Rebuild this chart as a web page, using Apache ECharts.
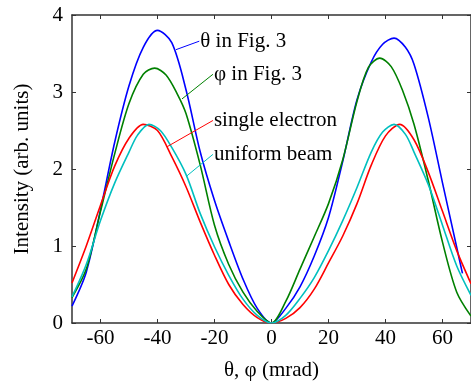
<!DOCTYPE html>
<html>
<head>
<meta charset="utf-8">
<script src="https://cdn.jsdelivr.net/npm/echarts@6/dist/echarts.min.js"></script>
<style>
html,body{margin:0;padding:0;background:#fff;}
#c{width:471px;height:387px;}
</style>
</head>
<body>
<div id="c"></div>
<script>
// ---- data (mrad, arb. units) ----
var thetaX = [-70,-65,-60,-55,-50,-45,-40,-35,-30,-25,-20,-15,-10,-5,0,5,10,15,20,25,30,35,39,43,47,50,55,60,65,67];
var thetaY = [0.22,0.66,1.47,2.35,3.08,3.58,3.80,3.64,3.03,2.22,1.59,1.06,0.57,0.19,0,0.19,0.47,0.87,1.37,2.10,2.90,3.39,3.62,3.70,3.58,3.36,2.67,1.82,0.98,0.645];

var phiX = [-70,-65,-60,-55,-50,-45,-41,-37,-33,-30,-25,-20,-15,-10,-5,0,5,10,15,20,25,30,34,38,42,46,50,55,60,65,70];
var phiY = [0.33,0.70,1.45,2.20,2.85,3.23,3.31,3.22,2.97,2.72,2.05,1.27,0.76,0.40,0.15,0,0.28,0.70,1.12,1.55,2.12,2.88,3.32,3.44,3.33,3.02,2.58,1.85,1.05,0.40,0.09];

var singleX = [-70,-65,-60,-55,-50,-45,-40,-35,-30,-25,-20,-15,-10,-5,0,5,10,15,20,25,30,35,40,45,50,55,60,65,70];
var singleY = [0.52,1.00,1.53,2.04,2.40,2.58,2.50,2.16,1.77,1.31,0.88,0.50,0.24,0.07,0,0.06,0.20,0.44,0.78,1.13,1.55,2.05,2.43,2.58,2.38,1.96,1.45,0.94,0.51];

var uniformX = [-70,-65,-60,-55,-50,-47,-43,-39,-35,-30,-25,-20,-15,-10,-5,0,5,10,15,20,25,30,35,39,43,47,50,55,60,65,70];
var uniformY = [0.34,0.76,1.33,1.82,2.22,2.44,2.58,2.50,2.28,1.93,1.42,0.99,0.62,0.31,0.10,0,0.10,0.32,0.59,0.94,1.33,1.76,2.22,2.48,2.58,2.45,2.22,1.80,1.27,0.74,0.36];

var seriesNames = ['θ in Fig. 3', 'φ in Fig. 3', 'single electron', 'uniform beam'];
var seriesColors = ['#0000ff', '#008000', '#ff0000', '#00bfbf'];

var xTicks = [-60,-40,-20,0,20,40,60];

// annotation: text anchor (data coords) and leader end point on curve (data coords)
var labelAnchorX = [-25.0, -20.2, -20.2, -20.2];
var labelAnchorY = [3.66, 3.23, 2.63, 2.19];
var leaderEndX = [-33.5, -31.4, -36.6, -29.7];
var leaderEndY = [3.55, 2.91, 2.29, 1.91];

function pairs(xs, ys){ return xs.map(function(x,i){ return [x, ys[i]]; }); }

var FONT = 'Liberation Serif';
var FS = 21;
var axisCol = '#333';

var chart = echarts.init(document.getElementById('c'), null, {renderer:'canvas'});

var baseX = {
  type:'value', min:-70, max:70,
  axisLine:{show:true, onZero:false, lineStyle:{color:axisCol, width:1.5}},
  axisTick:{show:true, inside:true, length:4, customValues:xTicks, lineStyle:{color:axisCol, width:1}},
  splitLine:{show:false}
};
var baseY = {
  type:'value', min:0, max:4, interval:1,
  axisLine:{show:true, onZero:false, lineStyle:{color:axisCol, width:1.5}},
  axisTick:{show:true, inside:true, length:4, lineStyle:{color:axisCol, width:1}},
  splitLine:{show:false}
};

var dataSets = [pairs(thetaX,thetaY), pairs(phiX,phiY), pairs(singleX,singleY), pairs(uniformX,uniformY)];

chart.setOption({
  animation:false,
  grid:{left:72, top:15, width:401, height:308},
  xAxis:[
    Object.assign({}, baseX, {
      position:'bottom',
      axisLabel:{show:true, customValues:xTicks, fontFamily:FONT, fontSize:FS, color:'#000', margin:5},
      name:'θ, φ (mrad)', nameLocation:'middle', nameGap:37,
      nameTextStyle:{fontFamily:FONT, fontSize:FS, color:'#000'}
    }),
    Object.assign({}, baseX, {position:'top', axisLabel:{show:false}})
  ],
  yAxis:[
    Object.assign({}, baseY, {
      position:'left',
      axisLabel:{show:true, fontFamily:FONT, fontSize:FS, color:'#000', margin:9},
      name:'Intensity (arb. units)', nameLocation:'middle', nameGap:39,
      nameTextStyle:{fontFamily:FONT, fontSize:FS, color:'#000'}
    }),
    Object.assign({}, baseY, {position:'right', axisLabel:{show:false}})
  ],
  series: dataSets.map(function(d, i){
    return {
      type:'line', name:seriesNames[i], data:d, xAxisIndex:0, yAxisIndex:0,
      smooth:0.3, showSymbol:false, symbol:'none',
      lineStyle:{color:seriesColors[i], width:1.6}, z:2
    };
  })
});

var g = [];
for (var i = 0; i < seriesNames.length; i++) {
  var a = chart.convertToPixel({gridIndex:0}, [labelAnchorX[i], labelAnchorY[i]]);
  var e = chart.convertToPixel({gridIndex:0}, [leaderEndX[i], leaderEndY[i]]);
  g.push({type:'line', shape:{x1:a[0]-1, y1:a[1], x2:e[0], y2:e[1]}, style:{stroke:seriesColors[i], lineWidth:1}, z:5});
  g.push({type:'text', x:a[0], y:a[1], style:{text:seriesNames[i], font:FS + 'px "Liberation Serif"', fill:'#000', textVerticalAlign:'middle', textAlign:'left'}, z:6});
}
chart.setOption({graphic:g});
</script>
</body>
</html>
